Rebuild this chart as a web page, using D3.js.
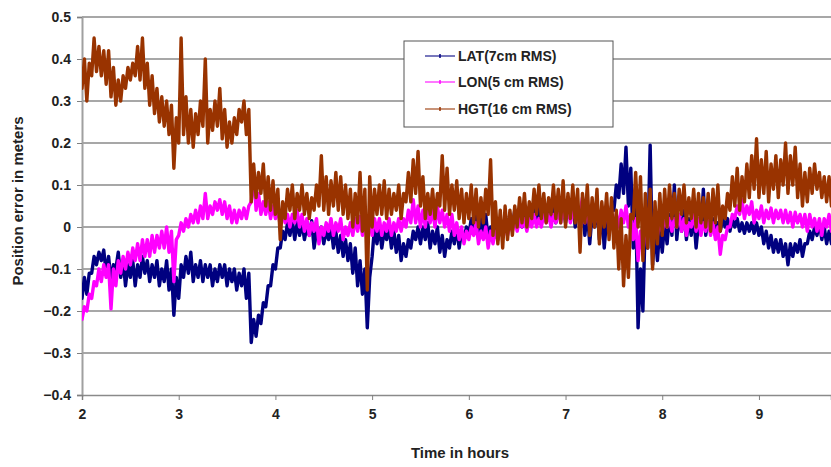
<!DOCTYPE html>
<html>
<head>
<meta charset="utf-8">
<script src="https://cdn.jsdelivr.net/npm/d3@7"></script>
<style>
  body { margin: 0; background: #fff; }
  svg text { font-family: "Liberation Sans", Arial, sans-serif; font-weight: bold; fill: #222; }
</style>
</head>
<body>
<div id="chart"></div>
<script>
// Time axis: samples every 0.05 h starting at 2.0 h, each entry is [low, high] of the trace there
const tStart = 2.0;
const tStep = 0.05;
const xTicks = [2, 3, 4, 5, 6, 7, 8, 9];
const yTicks = [-0.4, -0.3, -0.2, -0.1, 0, 0.1, 0.2, 0.3, 0.4, 0.5];
const seriesNames = ['LAT(7cm RMS)', 'LON(5 cm RMS)', 'HGT(16 cm RMS)'];
const seriesColors = ['#000080', '#ff00ff', '#993300'];

const latValues = [
  [-0.17,-0.12],[-0.16,-0.11],[-0.11,-0.07],[-0.09,-0.06],[-0.08,-0.055],[-0.11,-0.07],[-0.13,-0.09],[-0.10,-0.06],[-0.12,-0.08],[-0.14,-0.09],
  [-0.12,-0.08],[-0.14,-0.09],[-0.12,-0.07],[-0.11,-0.08],[-0.13,-0.09],[-0.12,-0.08],[-0.14,-0.10],[-0.13,-0.08],[-0.15,-0.10],[-0.21,-0.12],
  [-0.17,-0.09],[-0.12,-0.07],[-0.11,-0.06],[-0.13,-0.09],[-0.12,-0.08],[-0.13,-0.09],[-0.12,-0.09],[-0.14,-0.10],[-0.13,-0.09],[-0.12,-0.09],
  [-0.14,-0.10],[-0.13,-0.10],[-0.15,-0.11],[-0.14,-0.10],[-0.17,-0.11],[-0.275,-0.22],[-0.26,-0.21],[-0.23,-0.18],[-0.19,-0.14],[-0.14,-0.09],
  [-0.10,-0.05],[-0.05,-0.01],[-0.03,0.01],[-0.02,0.015],[-0.03,0.01],[-0.02,0.01],[-0.03,0.00],[-0.02,0.015],[-0.05,-0.01],[-0.03,0.00],
  [-0.04,-0.01],[-0.03,0.00],[-0.05,-0.01],[-0.06,-0.02],[-0.07,-0.03],[-0.08,-0.04],[-0.11,-0.05],[-0.14,-0.08],[-0.16,-0.10],[-0.24,-0.12],
  [-0.07,0.00],[-0.04,0.00],[-0.05,-0.01],[-0.03,0.00],[-0.05,-0.01],[-0.06,-0.02],[-0.08,-0.04],[-0.07,-0.03],[-0.05,-0.01],[-0.03,0.00],
  [-0.04,0.00],[-0.03,0.01],[-0.05,-0.01],[-0.04,0.00],[-0.06,-0.02],[-0.07,-0.03],[-0.05,-0.01],[-0.04,0.00],[-0.05,-0.01],[-0.03,0.00],
  [-0.02,0.02],[-0.01,0.03],[-0.02,0.02],[-0.01,0.03],[-0.03,0.00],[-0.02,0.01],[-0.03,0.00],[-0.02,0.02],[0.00,0.03],[0.00,0.04],
  [0.01,0.04],[0.00,0.03],[0.01,0.04],[0.01,0.05],[0.02,0.05],[0.01,0.04],[0.02,0.05],[0.02,0.06],[0.01,0.05],[0.02,0.06],
  [0.01,0.05],[0.02,0.06],[0.00,0.05],[0.01,0.06],[-0.02,0.04],[-0.04,0.03],[0.00,0.05],[-0.03,0.04],[-0.05,0.02],[0.00,0.05],
  [0.04,0.10],[0.07,0.15],[0.08,0.19],[0.05,0.14],[-0.05,0.06],[-0.24,-0.10],[-0.20,0.02],[-0.05,0.195],[-0.09,-0.01],[-0.08,0.00],
  [-0.06,0.01],[-0.04,0.03],[-0.02,0.10],[-0.03,0.03],[-0.01,0.04],[-0.03,0.02],[-0.02,0.03],[-0.05,0.01],[-0.01,0.09],[-0.02,0.03],
  [-0.01,0.02],[-0.02,0.01],[-0.01,0.02],[0.00,0.02],[-0.01,0.02],[0.00,0.02],[-0.01,0.01],[-0.015,0.01],[-0.01,0.01],[-0.015,0.01],
  [-0.02,0.00],[-0.04,-0.01],[-0.05,-0.02],[-0.06,-0.03],[-0.06,-0.03],[-0.07,-0.04],[-0.09,-0.04],[-0.07,-0.04],[-0.06,-0.03],[-0.07,-0.04],
  [-0.04,-0.01],[-0.03,0.00],[-0.02,0.01],[-0.03,0.00],[-0.04,-0.01],[-0.04,-0.01]
];

const lonValues = [
  [-0.22,-0.19],[-0.20,-0.16],[-0.17,-0.13],[-0.14,-0.10],[-0.13,-0.09],[-0.12,-0.09],[-0.195,-0.10],[-0.14,-0.08],[-0.11,-0.07],[-0.10,-0.06],
  [-0.09,-0.05],[-0.08,-0.04],[-0.08,-0.03],[-0.07,-0.03],[-0.07,-0.02],[-0.06,-0.02],[-0.05,-0.01],[-0.05,0.00],[-0.06,-0.01],[-0.13,-0.03],
  [-0.02,0.01],[-0.01,0.02],[0.00,0.03],[0.01,0.04],[0.01,0.05],[0.02,0.08],[0.02,0.05],[0.03,0.06],[0.04,0.065],[0.03,0.06],
  [0.02,0.05],[0.01,0.04],[0.01,0.04],[0.02,0.045],[0.02,0.05],[0.06,0.13],[0.04,0.08],[0.03,0.06],[0.03,0.06],[0.02,0.05],
  [0.02,0.05],[0.00,0.04],[0.01,0.03],[0.00,0.03],[0.01,0.04],[0.00,0.03],[-0.01,0.02],[-0.02,0.01],[-0.01,0.02],[-0.04,0.00],
  [-0.02,0.01],[-0.01,0.02],[-0.02,0.01],[-0.01,0.02],[-0.03,0.00],[-0.02,0.01],[-0.02,0.02],[-0.01,0.025],[-0.02,0.02],[-0.01,0.02],
  [-0.02,0.02],[-0.01,0.02],[-0.02,0.01],[-0.01,0.02],[-0.02,0.01],[-0.01,0.02],[-0.01,0.02],[0.00,0.04],[0.01,0.065],[0.01,0.05],
  [0.00,0.04],[0.00,0.05],[0.01,0.04],[0.00,0.05],[0.01,0.04],[0.00,0.03],[-0.01,0.03],[-0.02,0.01],[-0.03,0.00],[-0.04,-0.01],
  [-0.03,0.00],[-0.02,0.01],[-0.04,-0.01],[-0.03,0.00],[-0.05,-0.01],[-0.04,-0.01],[-0.03,0.00],[-0.02,0.01],[-0.02,0.01],[-0.01,0.02],
  [-0.01,0.02],[0.00,0.02],[-0.01,0.02],[0.00,0.03],[0.00,0.02],[0.00,0.03],[0.01,0.03],[0.00,0.03],[0.01,0.04],[0.01,0.04],
  [0.02,0.05],[0.01,0.04],[0.02,0.05],[0.03,0.07],[0.01,0.05],[0.00,0.04],[0.01,0.04],[0.00,0.03],[0.01,0.04],[0.00,0.03],
  [-0.01,0.03],[0.00,0.04],[0.01,0.05],[0.00,0.03],[-0.03,0.02],[-0.08,-0.01],[-0.06,0.00],[-0.02,0.02],[-0.03,0.01],[-0.02,0.02],
  [-0.01,0.02],[0.00,0.02],[-0.01,0.02],[0.00,0.03],[-0.01,0.02],[-0.02,0.01],[0.00,0.03],[-0.01,0.02],[-0.02,0.01],[-0.01,0.02],
  [-0.02,0.01],[-0.03,0.00],[-0.065,-0.02],[-0.03,0.00],[0.00,0.03],[0.02,0.05],[0.03,0.065],[0.02,0.05],[0.03,0.06],[0.01,0.04],
  [0.02,0.05],[0.01,0.04],[0.02,0.045],[0.01,0.04],[0.02,0.04],[0.01,0.04],[0.01,0.035],[0.00,0.035],[0.01,0.03],[0.00,0.03],
  [-0.01,0.03],[0.00,0.02],[-0.01,0.02],[-0.02,0.02],[0.00,0.03],[-0.01,0.02]
];

const hgtValues = [
  [0.33,0.40],[0.30,0.39],[0.36,0.45],[0.37,0.43],[0.36,0.42],[0.34,0.42],[0.31,0.38],[0.29,0.35],[0.30,0.36],[0.33,0.38],
  [0.35,0.39],[0.36,0.43],[0.35,0.45],[0.33,0.39],[0.29,0.36],[0.27,0.33],[0.25,0.31],[0.24,0.30],[0.22,0.29],[0.14,0.26],
  [0.20,0.45],[0.22,0.31],[0.20,0.28],[0.19,0.27],[0.22,0.30],[0.24,0.40],[0.20,0.28],[0.23,0.30],[0.24,0.33],[0.21,0.28],
  [0.19,0.25],[0.20,0.26],[0.22,0.28],[0.25,0.30],[0.22,0.28],[0.06,0.15],[0.07,0.13],[0.08,0.15],[0.05,0.12],[0.04,0.11],
  [0.03,0.09],[-0.03,0.06],[0.02,0.09],[0.04,0.10],[0.02,0.08],[0.04,0.10],[0.03,0.08],[0.02,0.07],[0.04,0.10],[0.05,0.17],
  [0.04,0.12],[0.03,0.11],[0.05,0.13],[0.04,0.12],[0.03,0.10],[0.02,0.09],[0.00,0.08],[0.01,0.13],[-0.01,0.09],[-0.15,0.12],
  [0.00,0.09],[0.03,0.10],[0.03,0.11],[0.02,0.09],[0.03,0.08],[0.04,0.10],[0.02,0.08],[0.06,0.13],[0.06,0.16],[0.08,0.18],
  [0.05,0.12],[0.02,0.08],[0.03,0.09],[0.02,0.08],[0.05,0.17],[0.04,0.14],[0.03,0.10],[0.04,0.11],[0.02,0.09],[0.01,0.08],
  [0.02,0.10],[0.01,0.09],[0.00,0.07],[0.01,0.09],[0.03,0.16],[-0.02,0.06],[-0.04,0.04],[-0.05,0.05],[-0.03,0.04],[-0.02,0.05],
  [0.00,0.07],[0.01,0.08],[0.00,0.06],[0.02,0.09],[0.03,0.10],[0.02,0.08],[0.01,0.07],[0.03,0.10],[0.02,0.09],[0.01,0.11],
  [0.00,0.08],[0.02,0.10],[0.01,0.09],[-0.06,0.08],[0.01,0.10],[-0.02,0.07],[0.00,0.09],[-0.04,0.06],[0.00,0.08],[-0.03,0.07],
  [-0.05,0.04],[-0.10,0.02],[-0.14,-0.02],[-0.12,0.03],[0.02,0.13],[0.00,0.12],[-0.08,0.08],[-0.05,0.09],[-0.10,0.06],[-0.04,0.08],
  [-0.02,0.09],[0.00,0.10],[0.02,0.08],[0.00,0.09],[0.03,0.10],[0.01,0.07],[0.02,0.09],[0.00,0.08],[0.01,0.07],[0.00,0.08],
  [-0.01,0.09],[0.01,0.10],[-0.01,0.05],[0.02,0.08],[0.04,0.12],[0.05,0.14],[0.04,0.12],[0.06,0.15],[0.07,0.17],[0.09,0.21],
  [0.07,0.16],[0.08,0.18],[0.06,0.15],[0.09,0.17],[0.07,0.16],[0.10,0.20],[0.08,0.17],[0.10,0.19],[0.07,0.15],[0.05,0.13],
  [0.06,0.14],[0.08,0.15],[0.09,0.13],[0.07,0.12],[0.06,0.12],[0.05,0.10]
];

const width = 831;
const height = 467;
const margin = { left: 82, right: 0, top: 17, bottom: 72 };

const svg = d3.select('#chart')
    .append('svg')
    .attr('width', width)
    .attr('height', height);

const x = d3.scaleLinear()
    .domain([2, 9.745])
    .range([margin.left, width - margin.right]);

const y = d3.scaleLinear()
    .domain([-0.4, 0.5])
    .range([height - margin.bottom, margin.top]);

svg.append('defs').append('clipPath')
    .attr('id', 'plot-clip')
    .append('rect')
    .attr('x', margin.left)
    .attr('y', 0)
    .attr('width', width - margin.left)
    .attr('height', height);

// Horizontal gridlines
svg.append('g')
    .selectAll('line')
    .data(yTicks.filter(d => d !== -0.4))
    .join('line')
    .attr('x1', margin.left)
    .attr('x2', width)
    .attr('y1', d => y(d))
    .attr('y2', d => y(d))
    .style('stroke', '#8a8a8a')
    .style('stroke-width', 1.5);

// Y axis
const yAxis = svg.append('g')
    .attr('transform', `translate(${margin.left},0)`)
    .call(d3.axisLeft(y).tickValues(yTicks).tickSize(5).tickPadding(6)
        .tickFormat(d => d === 0 ? '0' : d3.format('.1f')(d)));
yAxis.select('.domain').style('stroke', '#a0a0a0').style('stroke-width', 2);
yAxis.selectAll('.tick line').style('stroke', '#808080');
yAxis.selectAll('text').style('font-size', '14px');

// X axis
const xAxis = svg.append('g')
    .attr('transform', `translate(0,${y(-0.4)})`)
    .call(d3.axisBottom(x).tickValues(xTicks).tickSize(5).tickPadding(9)
        .tickFormat(d3.format('d')));
xAxis.select('.domain').style('stroke', '#8a8a8a').style('stroke-width', 1.5);
xAxis.selectAll('.tick line').style('stroke', '#808080');
xAxis.selectAll('text').style('font-size', '14px');

// Traces: each [low, high] pair is drawn as two consecutive samples
function toPoints(values) {
    const pts = [];
    values.forEach((pair, i) => {
        pts.push([tStart + i * tStep, pair[0]]);
        pts.push([tStart + i * tStep + tStep / 2, pair[1]]);
    });
    return pts;
}

const line = d3.line()
    .x(d => x(d[0]))
    .y(d => y(d[1]));

const plot = svg.append('g').attr('clip-path', 'url(#plot-clip)');
[latValues, lonValues, hgtValues].forEach((values, i) => {
    plot.append('path')
        .datum(toPoints(values))
        .attr('d', line)
        .style('fill', 'none')
        .style('stroke', seriesColors[i])
        .style('stroke-width', 3.4)
        .style('stroke-linejoin', 'round')
        .style('stroke-linecap', 'round');
});

// Axis titles
svg.append('text')
    .attr('x', 460)
    .attr('y', 458)
    .attr('text-anchor', 'middle')
    .style('font-size', '15px')
    .text('Time in hours');

svg.append('text')
    .attr('transform', 'translate(23,201) rotate(-90)')
    .attr('text-anchor', 'middle')
    .style('font-size', '15px')
    .text('Position error in meters');

// Legend
const legend = svg.append('g').attr('transform', 'translate(404,41)');
legend.append('rect')
    .attr('width', 209)
    .attr('height', 86)
    .style('fill', '#fff')
    .style('stroke', '#555')
    .style('stroke-width', 1);

const legendRows = [15, 41, 68];
seriesNames.forEach((name, i) => {
    const row = legend.append('g').attr('transform', `translate(0,${legendRows[i]})`);
    row.append('line')
        .attr('x1', 21).attr('x2', 51)
        .style('stroke', seriesColors[i])
        .style('stroke-width', 1.5)
        .style('opacity', 0.7);
    row.append('line')
        .attr('x1', 36).attr('x2', 36)
        .attr('y1', -2).attr('y2', 2)
        .style('stroke', seriesColors[i])
        .style('stroke-width', 1.5);
    row.append('text')
        .attr('x', 54)
        .attr('dy', '0.35em')
        .style('font-size', '14px')
        .text(name);
});
</script>
</body>
</html>
